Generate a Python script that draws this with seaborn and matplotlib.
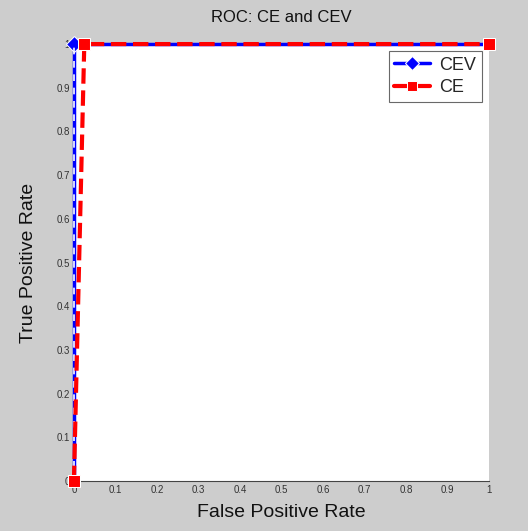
import matplotlib
matplotlib.use("Agg")
import matplotlib.pyplot as plt
import seaborn as sns
import pandas as pd

sns.set_style("white")
plt.rcParams['font.family'] = ['Liberation Sans', 'DejaVu Sans']

# data
cev_fpr = [0.0, 0.0, 1.0]
cev_tpr = [0.0, 1.0, 1.0]
ce_fpr = [0.0, 0.025, 1.0]
ce_tpr = [0.0, 1.0, 1.0]
ticks = [0, 0.1, 0.2, 0.3, 0.4, 0.5, 0.6, 0.7, 0.8, 0.9, 1]
tick_labels = ["0", "0.1", "0.2", "0.3", "0.4", "0.5", "0.6", "0.7", "0.8", "0.9", "1"]

df_cev = pd.DataFrame({"FPR": cev_fpr, "TPR": cev_tpr})
df_ce = pd.DataFrame({"FPR": ce_fpr, "TPR": ce_tpr})

fig = plt.figure(figsize=(5.28, 5.31), dpi=100, facecolor="#cdcdcd")
ax = fig.add_axes([0.140, 0.094, 0.786, 0.823])
ax.set_facecolor("white")

sns.lineplot(data=df_cev, x="FPR", y="TPR", ax=ax, color="#0000ff", lw=2.5,
             marker="D", markersize=8, sort=False, estimator=None,
             label="CEV", zorder=3)
sns.lineplot(data=df_ce, x="FPR", y="TPR", ax=ax, color="#ff0000", lw=3,
             linestyle="--", marker="s", markersize=8, sort=False,
             estimator=None, label="CE", zorder=4)
# white dash overlay on blue line
ax.plot(cev_fpr[:2], cev_tpr[:2], color="white", lw=1.2, ls=(0, (4, 4)), zorder=3.5)
# first CEV marker hidden under the CE marker at origin
ax.lines[0].set_markevery([1])

ax.set_xlim(0, 1)
ax.set_ylim(0, 1)
ax.set_xticks(ticks)
ax.set_xticklabels(tick_labels)
ax.set_yticks(ticks)
ax.set_yticklabels(tick_labels)
ax.tick_params(axis="both", direction="in", length=4, labelsize=7, colors="#333333",
               width=0.8, pad=3)
for s in ["top", "right"]:
    ax.spines[s].set_visible(False)
for s in ["left", "bottom"]:
    ax.spines[s].set_color("#444444")
    ax.spines[s].set_linewidth(0.8)
for sp in ax.spines.values():
    sp.set_zorder(0)
for ln in ax.lines:
    ln.set_clip_on(False)

ax.set_xlabel("False Positive Rate", fontsize=14, color="#111111", labelpad=6)
ax.set_ylabel("True Positive Rate", fontsize=14, color="#111111", labelpad=14)
ax.set_title("ROC: CE and CEV", fontsize=12, color="#111111", pad=16)

leg = ax.legend(loc="upper right", fontsize=13, frameon=True, fancybox=False,
                handlelength=2.0, borderaxespad=0.4, handletextpad=0.5,
                labelspacing=0.3, borderpad=0.3)
leg.get_frame().set_edgecolor("#444444")
leg.get_frame().set_linewidth(0.8)
for h in leg.get_lines():
    h.set_linestyle("-")
    h.set_markersize(7)

fig.savefig("out.png", dpi=100, facecolor=fig.get_facecolor())
